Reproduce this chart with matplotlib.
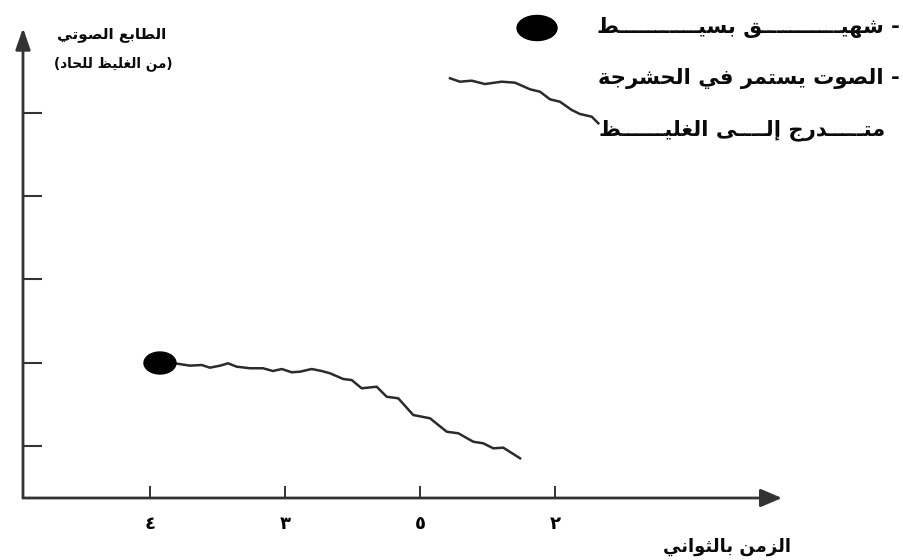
import matplotlib
matplotlib.use('Agg')
import matplotlib.pyplot as plt
from matplotlib.patches import Ellipse

# x: tick positions (seconds), y: level from thick to sharp
tick_pos = [1, 2, 3, 4]
tick_labels = ['٤', '٣', '٥', '٢']
y_ticks = [1, 2, 3, 4, 5]

# short simple inhale (the dot) + rattle going down (lower trace)
dot_x, dot_y = 1.074, 2.0
low_x = [1.185, 1.296, 1.383, 1.444, 1.519, 1.578, 1.642, 1.741, 1.837, 1.911,
         1.976, 2.050, 2.111, 2.198, 2.272, 2.333, 2.432, 2.494, 2.568, 2.679,
         2.753, 2.839, 2.950, 3.074, 3.198, 3.284, 3.395, 3.469, 3.543, 3.617, 3.741]
low_y = [1.996, 1.968, 1.976, 1.944, 1.968, 1.996, 1.956, 1.937, 1.937, 1.904,
         1.928, 1.889, 1.896, 1.928, 1.904, 1.877, 1.808, 1.796, 1.697, 1.716,
         1.596, 1.577, 1.377, 1.338, 1.177, 1.158, 1.057, 1.038, 0.978, 0.986, 0.859]

# legend sample trace
up_x = [3.222, 3.296, 3.383, 3.481, 3.605, 3.704, 3.815, 3.889, 3.963, 4.037,
        4.124, 4.185, 4.272, 4.321]
up_y = [5.410, 5.369, 5.381, 5.341, 5.369, 5.357, 5.278, 5.249, 5.158, 5.129,
        5.030, 4.982, 4.950, 4.871]
leg_dot_x, leg_dot_y = 3.867, 6.012

y_title = 'الطابع الصوتي'
y_sub = '(من الغليظ للحاد)'
x_title = 'الزمن بالثواني'
K = '\u0640'
leg1 = '- شهي' + K * 11 + 'ق بسي' + K * 11 + 'ط'
leg2 = '- الصوت يستمر في الحشرجة'
leg3 = 'مت' + K * 5 + 'درج إل' + K * 4 + 'ى الغلي' + K * 6 + 'ظ'

# --- tiny arabic shaper (matplotlib has no bidi / joining) ---
FORMS = {
    'ا': (0xFE8D, 0xFE8E), 'إ': (0xFE87, 0xFE88), 'أ': (0xFE83, 0xFE84),
    'ب': (0xFE8F, 0xFE90, 0xFE91, 0xFE92), 'ة': (0xFE93, 0xFE94),
    'ت': (0xFE95, 0xFE96, 0xFE97, 0xFE98), 'ث': (0xFE99, 0xFE9A, 0xFE9B, 0xFE9C),
    'ج': (0xFE9D, 0xFE9E, 0xFE9F, 0xFEA0), 'ح': (0xFEA1, 0xFEA2, 0xFEA3, 0xFEA4),
    'د': (0xFEA9, 0xFEAA), 'ر': (0xFEAD, 0xFEAE), 'ز': (0xFEAF, 0xFEB0),
    'س': (0xFEB1, 0xFEB2, 0xFEB3, 0xFEB4), 'ش': (0xFEB5, 0xFEB6, 0xFEB7, 0xFEB8),
    'ص': (0xFEB9, 0xFEBA, 0xFEBB, 0xFEBC), 'ط': (0xFEC1, 0xFEC2, 0xFEC3, 0xFEC4),
    'ظ': (0xFEC5, 0xFEC6, 0xFEC7, 0xFEC8), 'ع': (0xFEC9, 0xFECA, 0xFECB, 0xFECC),
    'غ': (0xFECD, 0xFECE, 0xFECF, 0xFED0), 'ف': (0xFED1, 0xFED2, 0xFED3, 0xFED4),
    'ق': (0xFED5, 0xFED6, 0xFED7, 0xFED8), 'ل': (0xFEDD, 0xFEDE, 0xFEDF, 0xFEE0),
    'م': (0xFEE1, 0xFEE2, 0xFEE3, 0xFEE4), 'ن': (0xFEE5, 0xFEE6, 0xFEE7, 0xFEE8),
    'ه': (0xFEE9, 0xFEEA, 0xFEEB, 0xFEEC), 'و': (0xFEED, 0xFEEE),
    'ى': (0xFEEF, 0xFEF0), 'ي': (0xFEF1, 0xFEF2, 0xFEF3, 0xFEF4),
}
LAMALEF = {'ا': (0xFEFB, 0xFEFC), 'إ': (0xFEF9, 0xFEFA), 'أ': (0xFEF7, 0xFEF8)}


def dual(c):
    return c == K or len(FORMS.get(c, ())) == 4


def ar(text):
    res = []
    i = 0
    n = len(text)
    while i < n:
        c = text[i]
        if c not in FORMS:
            res.append(c)
            i += 1
            continue
        jp = i > 0 and dual(text[i - 1])
        if c == 'ل' and i + 1 < n and text[i + 1] in LAMALEF:
            iso, fin = LAMALEF[text[i + 1]]
            res.append(chr(fin if jp else iso))
            i += 2
            continue
        f = FORMS[c]
        jn = len(f) == 4 and i + 1 < n and (text[i + 1] in FORMS or text[i + 1] == K)
        if jp and jn:
            g = f[3]
        elif jp:
            g = f[1]
        elif jn:
            g = f[2]
        else:
            g = f[0]
        res.append(chr(g))
        i += 1
    out = ''.join(reversed(res))
    return out.translate(str.maketrans('()', ')('))


W, H = 904, 560
fig = plt.figure(figsize=(W / 100, H / 100), dpi=100)
ax = fig.add_axes([23 / W, 1 - 498 / H, (782 - 23) / W, (498 - 28) / H])
ax.set_xlim(0.0593, 5.6815)
ax.set_ylim(0.3832, 6.0120)
for s in ax.spines.values():
    s.set_visible(False)

axc = '#333333'
ax.annotate('', xy=(1, 0), xytext=(0, 0), xycoords='axes fraction',
            arrowprops=dict(arrowstyle='-|>,head_length=1.3,head_width=0.55',
                            color=axc, lw=2.0, shrinkA=0, shrinkB=0))
ax.annotate('', xy=(0, 1), xytext=(0, 0), xycoords='axes fraction',
            arrowprops=dict(arrowstyle='-|>,head_length=1.3,head_width=0.45',
                            color=axc, lw=2.0, shrinkA=0, shrinkB=0))

ax.set_xticks(tick_pos)
ax.set_xticklabels(tick_labels, fontsize=13, fontweight='bold', family='DejaVu Sans')
ax.set_yticks(y_ticks)
ax.set_yticklabels([])
ax.tick_params(axis='x', direction='in', length=8.5, width=1.4, color=axc, pad=12)
ax.tick_params(axis='y', direction='in', length=13.5, width=1.5, color=axc)

# traces
ax.plot(low_x, low_y, color='#2b2b2b', lw=1.8, solid_joinstyle='round')
ax.plot(up_x, up_y, color='#2b2b2b', lw=1.8, clip_on=False)
ax.add_patch(Ellipse((dot_x, dot_y), 0.237, 0.263, color='black', zorder=3))
ax.add_patch(Ellipse((leg_dot_x, leg_dot_y), 0.296, 0.30, color='black', zorder=3,
                     clip_on=False))

tk = dict(family='DejaVu Sans', fontweight='bold', color='#0a0a0a')
fig.text(112 / W, 1 - 35 / H, ar(y_title), ha='center', va='center', fontsize=11, **tk)
fig.text(113 / W, 1 - 64 / H, ar(y_sub), ha='center', va='center', fontsize=9.8, **tk)
fig.text(727 / W, 1 - 547 / H, ar(x_title), ha='center', va='center', fontsize=13, **tk)

fig.text(900 / W, 1 - 27 / H, ar(leg1), ha='right', va='center', fontsize=15.2, **tk)
fig.text(900 / W, 1 - 79 / H, ar(leg2), ha='right', va='center', fontsize=15.2, **tk)
fig.text(885 / W, 1 - 130 / H, ar(leg3), ha='right', va='center', fontsize=15.2, **tk)

fig.savefig('out.png', dpi=100)
